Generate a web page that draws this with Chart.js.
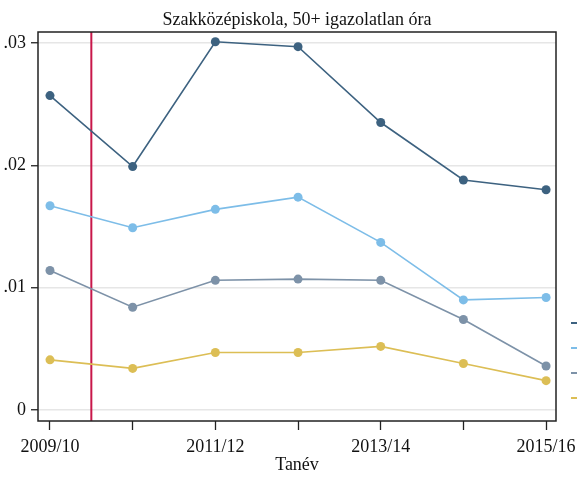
<!DOCTYPE html>
<html>
<head>
<meta charset="utf-8">
<script src="https://cdn.jsdelivr.net/npm/chart.js@4"></script>
<style>
  body { margin: 0; background: #fff; }
  #wrap { width: 577px; height: 480px; }
</style>
</head>
<body>
<div id="wrap"><canvas id="myChart"></canvas></div>
<script>
const years = ['2009/10', '2010/11', '2011/12', '2012/13', '2013/14', '2014/15', '2015/16'];
const seriesDark = [0.0257, 0.0199, 0.0301, 0.0297, 0.0235, 0.0188, 0.0180];
const seriesLight = [0.0167, 0.0149, 0.0164, 0.0174, 0.0137, 0.0090, 0.0092];
const seriesGrey = [0.0114, 0.0084, 0.0106, 0.0107, 0.0106, 0.0074, 0.0036];
const seriesYellow = [0.0041, 0.0034, 0.0047, 0.0047, 0.0052, 0.0038, 0.0024];
const yTicks = [0, 0.01, 0.02, 0.03];
const markerAt = 0.5; // red vertical line between 2009/10 and 2010/11

const colors = ['#3d6280', '#7dbde8', '#7d92a8', '#dcbe55'];
const font = 'Liberation Serif';

function toPoints(arr) {
  return arr.map((v, i) => ({ x: i, y: v }));
}

function makeSet(data, color) {
  return {
    data: toPoints(data),
    borderColor: color,
    backgroundColor: color,
    borderWidth: 1.6,
    pointRadius: 4.5,
    pointHoverRadius: 4.5,
    pointBorderWidth: 0,
    tension: 0
  };
}

// frame, red line and the clipped legend keys on the right
const extras = {
  id: 'extras',
  beforeDatasetsDraw(chart) {
    const { ctx, chartArea, scales } = chart;
    const x = scales.x.getPixelForValue(markerAt);
    ctx.save();
    ctx.strokeStyle = '#c8174a';
    ctx.lineWidth = 2;
    ctx.beginPath();
    ctx.moveTo(x, chartArea.top);
    ctx.lineTo(x, chartArea.bottom);
    ctx.stroke();
    ctx.restore();
  },
  afterDraw(chart) {
    const { ctx, chartArea } = chart;
    ctx.save();
    ctx.strokeStyle = '#222';
    ctx.lineWidth = 1.5;
    ctx.strokeRect(chartArea.left, chartArea.top, chartArea.right - chartArea.left, chartArea.bottom - chartArea.top);
    ctx.lineWidth = 2;
    colors.forEach((c, i) => {
      const y = 323 + i * 25;
      ctx.strokeStyle = c;
      ctx.beginPath();
      ctx.moveTo(571, y);
      ctx.lineTo(577, y);
      ctx.stroke();
    });
    ctx.restore();
  }
};

const ctx = document.getElementById('myChart');
const chart = new Chart(ctx, {
  type: 'line',
  data: {
    datasets: [
      makeSet(seriesDark, colors[0]),
      makeSet(seriesLight, colors[1]),
      makeSet(seriesGrey, colors[2]),
      makeSet(seriesYellow, colors[3])
    ]
  },
  options: {
    responsive: true,
    maintainAspectRatio: false,
    animation: false,
    layout: { padding: { top: 4, left: 0, right: 0, bottom: 0 } },
    plugins: {
      legend: { display: false },
      tooltip: { enabled: false },
      title: {
        display: true,
        fullSize: false,
        text: 'Szakközépiskola, 50+ igazolatlan óra',
        color: '#111',
        font: { family: font, size: 18, weight: 'normal' },
        padding: { top: 5, bottom: 1.4 }
      }
    },
    scales: {
      x: {
        type: 'linear',
        min: -0.145,
        max: 6.12,
        afterBuildTicks(scale) {
          scale.ticks = years.map((_, i) => ({ value: i }));
        },
        afterFit(scale) {
          scale.height = 59;
          scale.paddingLeft = 0;
          scale.paddingRight = 0;
        },
        ticks: {
          color: '#111',
          font: { family: font, size: 18 },
          padding: 6,
          maxRotation: 0,
          autoSkip: false,
          callback: (v) => (v % 2 === 0 ? years[v] : '')
        },
        grid: { drawOnChartArea: false, tickLength: 9, tickColor: '#222', tickWidth: 1.3 },
        border: { display: false },
        title: {
          display: true,
          text: 'Tanév',
          color: '#111',
          font: { family: font, size: 18 },
          padding: { top: 0, bottom: 4 }
        }
      },
      y: {
        min: -0.0009,
        max: 0.0309,
        afterBuildTicks(scale) {
          scale.ticks = yTicks.map(v => ({ value: v }));
        },
        afterFit(scale) { scale.width = 38; },
        ticks: {
          color: '#111',
          font: { family: font, size: 18 },
          padding: 5,
          callback: (v) => (v === 0 ? '0' : String(v).replace(/^0/, ''))
        },
        grid: { color: '#e6e6e6', lineWidth: 1.5, tickLength: 7, tickColor: '#222', tickWidth: 1.3 },
        border: { display: false }
      },
      y2: {
        position: 'right',
        display: true,
        afterFit(scale) { scale.width = 21; },
        ticks: { display: false },
        grid: { display: false },
        border: { display: false }
      }
    }
  },
  plugins: [extras]
});
</script>
</body>
</html>
